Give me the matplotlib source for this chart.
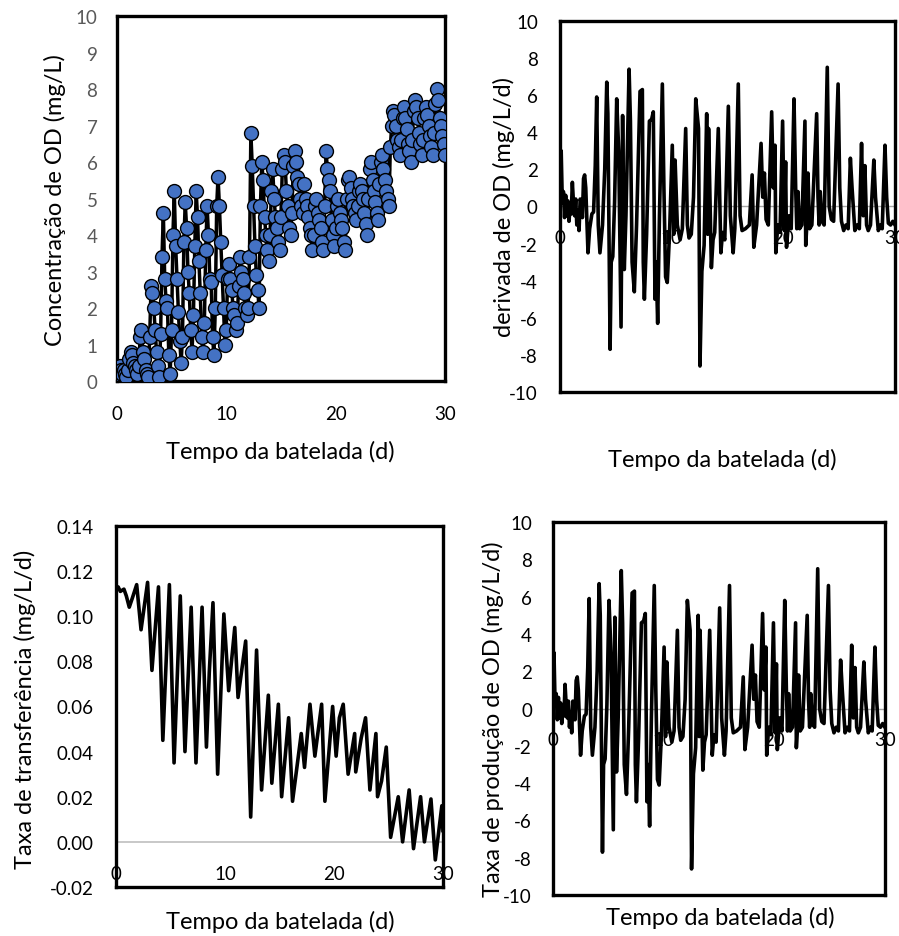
import matplotlib
matplotlib.use('Agg')
import matplotlib.pyplot as plt
import numpy as np

plt.rcParams['font.family'] = ['Lato', 'DejaVu Sans']
plt.rcParams['axes.unicode_minus'] = False

# dissolved oxygen concentration, 8 readings per day (every 3 h)
od_time = np.arange(241) / 8.0
od_conc = [
    0.2, 0.3, 0.4, 0.3, 0.2, 0.3, 0.2, 0.1,
    0.3, 0.6, 0.8, 0.7, 0.5, 0.4, 0.3, 0.2,
    0.4, 1.2, 1.4, 0.8, 0.6, 0.3, 0.2, 0.1,
    1.2, 2.6, 2.4, 2.0, 1.4, 0.8, 0.4, 0.1,
    1.3, 3.4, 4.6, 2.8, 2.2, 2.0, 0.7, 0.2,
    1.4, 4.0, 5.2, 3.7, 2.8, 1.9, 1.1, 0.5,
    1.2, 3.8, 4.9, 4.2, 3.0, 2.4, 1.4, 0.8,
    1.8, 3.7, 5.2, 4.5, 3.3, 2.4, 1.2, 0.8,
    1.6, 3.6, 4.8, 4.0, 2.8, 2.7, 1.2, 0.7,
    2.0, 4.8, 5.6, 4.8, 3.8, 2.9, 2.0, 1.0,
    1.4, 2.8, 3.2, 2.8, 2.5, 2.0, 1.8, 1.4,
    1.6, 2.6, 3.4, 3.0, 2.8, 2.4, 2.0, 1.8,
    2.0, 3.4, 6.8, 5.9, 4.8, 3.7, 2.9, 2.5,
    2.0, 4.8, 6.0, 5.5, 4.5, 4.0, 3.6, 3.3,
    4.0, 5.2, 5.8, 5.0, 4.5, 4.2, 3.8, 3.6,
    4.5, 5.8, 6.2, 6.0, 5.2, 4.8, 4.2, 4.0,
    4.6, 5.9, 6.3, 6.0, 5.6, 5.4, 5.0, 4.8,
    4.6, 5.4, 5.0, 4.8, 4.5, 4.2, 4.0, 3.6,
    4.0, 4.8, 5.0, 4.6, 4.4, 4.2, 3.8, 3.6,
    4.8, 6.3, 5.8, 5.5, 5.2, 4.4, 4.0, 3.7,
    4.2, 4.8, 5.0, 4.6, 4.4, 4.2, 3.8, 3.6,
    5.0, 5.5, 5.6, 5.3, 5.0, 4.8, 4.6, 4.4,
    4.8, 5.2, 5.4, 5.2, 5.0, 4.6, 4.3, 4.0,
    5.0, 5.8, 6.0, 5.5, 5.2, 4.9, 4.6, 4.4,
    5.4, 6.0, 6.2, 5.8, 5.5, 5.2, 5.0, 4.8,
    6.4, 7.0, 7.4, 7.3, 7.0, 6.6, 6.4, 6.2,
    6.6, 7.2, 7.5, 7.2, 6.9, 6.5, 6.3, 6.0,
    6.6, 7.4, 7.7, 7.5, 7.2, 6.8, 6.5, 6.2,
    6.6, 7.2, 7.5, 7.3, 7.0, 6.7, 6.4, 6.2,
    6.8, 7.6, 8.0, 7.7, 7.2, 7.0, 6.7, 6.5,
    6.2,
]

# derivative of DO (mg/L/d)
deriv_t = [0.00, 0.10, 0.20, 0.30, 0.40, 0.50, 0.60, 0.70, 0.80, 0.90,
           1.00, 1.10, 1.20, 1.30, 1.40, 1.50, 1.60, 1.70, 1.80, 1.90,
           2.00, 2.10, 2.20, 2.30, 2.50, 2.65, 2.85, 3.00, 3.15, 3.28,
           3.42, 3.57, 3.80, 4.00, 4.18, 4.28, 4.48, 4.58, 4.72, 4.88,
           5.07, 5.25, 5.46, 5.60, 5.75, 5.90, 6.18, 6.30, 6.45, 6.65,
           6.85, 7.16, 7.37, 7.45, 7.55, 7.75, 8.00, 8.20, 8.35, 8.50,
           8.60, 8.74, 8.90, 9.16, 9.30, 9.45, 9.60, 9.80, 10.05, 10.18,
           10.30, 10.50, 10.75, 10.95, 11.25, 11.40, 11.55, 11.75, 11.95, 12.15,
           12.40, 12.53, 12.70, 12.90, 13.13, 13.22, 13.30, 13.55, 13.70, 13.85,
           14.17, 14.28, 14.40, 14.55, 14.75, 15.07, 15.25, 15.50, 15.65, 15.96,
           16.12, 16.30, 16.60, 16.95, 17.20, 17.35, 17.60, 18.00, 18.15, 18.30,
           18.45, 18.65, 18.95, 19.10, 19.25, 19.32, 19.50, 19.70, 19.93, 20.08,
           20.20, 20.28, 20.50, 20.70, 20.95, 21.10, 21.20, 21.30, 21.45, 21.65,
           21.93, 22.00, 22.10, 22.20, 22.35, 22.55, 22.98, 23.10, 23.20, 23.30,
           23.45, 23.65, 23.93, 24.10, 24.30, 24.50, 24.90, 25.05, 25.20, 25.40,
           25.60, 25.80, 26.00, 26.15, 26.40, 26.60, 26.80, 27.00, 27.15, 27.30,
           27.45, 27.60, 27.80, 28.10, 28.25, 28.50, 28.70, 28.85, 29.10, 29.25,
           29.40, 29.60, 29.80, 30.00]
deriv_v = [0.3, 3.0, 0.2, 0.8, -0.6, 0.6, -0.5, 0.3, -0.8, 0.0,
           -0.4, 1.3, 0.2, -0.5, 0.4, -1.0, -0.2, -1.3, 0.4, 0.2,
           -0.6, 1.5, 1.7, 1.0, -2.5, -1.2, -0.4, -0.3, 2.2, 5.9,
           -1.0, -2.5, -1.0, 2.0, 6.7, 5.0, -7.7, -3.0, -2.7, 0.2,
           5.8, 3.0, -6.5, 4.9, -3.4, -0.5, 7.4, 4.6, -3.0, -4.6,
           -1.0, 6.2, 6.3, -3.0, -5.0, -1.5, 4.6, 4.7, 5.1, -5.0,
           -3.0, -6.3, -0.5, 6.6, 1.0, -3.8, -4.1, -1.5, 3.3, -1.5,
           2.5, -1.0, -1.8, -1.2, 4.2, -1.0, -1.7, -1.5, 0.5, 5.8,
           4.2, -8.6, -3.5, -2.1, 5.0, -1.5, 4.2, -3.3, -1.8, -1.4,
           4.2, 1.0, -2.5, -1.4, -1.8, 5.4, -0.5, -2.5, -1.2, 6.6,
           -0.5, -1.3, -1.2, -1.0, 1.7, -2.2, -1.0, 3.4, 0.5, 1.8,
           -0.7, -1.0, 5.1, 1.0, 3.3, -2.5, -1.0, -1.4, 4.6, -1.3,
           2.4, -2.2, -0.5, -1.2, 5.8, 1.0, -1.2, 0.8, -1.2, -1.0,
           4.6, -2.1, -1.0, 1.8, -1.2, -1.0, 5.0, 0.5, -1.0, 0.8,
           -0.8, -1.0, 7.5, 0.0, -0.7, -0.8, 6.6, 1.0, -0.8, -1.3,
           -1.0, -1.2, 2.6, 1.0, -1.3, -1.0, -1.2, 3.4, -0.5, 2.2,
           -1.0, -1.3, -1.0, 2.5, 0.5, -1.3, -1.0, -1.2, 3.3, 0.5,
           -0.9, -1.0, -0.8, -1.0]

# oxygen transfer rate (mg/L/d)
transf_t = [0.00, 0.20, 0.40, 0.73, 0.95, 1.22, 1.50, 1.90, 2.30, 2.90,
            3.30, 3.90, 4.30, 4.90, 5.33, 5.90, 6.33, 6.90, 7.34, 7.90,
            8.30, 8.56, 8.90, 9.33, 9.90, 10.34, 10.90, 11.20, 11.90, 12.36,
            12.90, 13.36, 13.98, 14.30, 14.90, 15.20, 15.84, 16.20, 17.00, 17.30,
            17.80, 18.25, 18.87, 19.17, 19.88, 20.20, 20.50, 20.85, 21.30, 21.90,
            22.00, 22.50, 22.90, 23.30, 23.85, 24.00, 24.37, 24.80, 25.20, 25.90,
            26.30, 26.90, 27.30, 27.95, 28.30, 28.90, 29.30, 29.90, 30.00]
transf_v = [0.112, 0.113, 0.111, 0.112, 0.109, 0.104, 0.108, 0.114, 0.094, 0.115,
            0.076, 0.113, 0.045, 0.114, 0.035, 0.109, 0.040, 0.104, 0.035, 0.104,
            0.042, 0.075, 0.106, 0.030, 0.101, 0.067, 0.095, 0.064, 0.089, 0.011,
            0.085, 0.023, 0.065, 0.026, 0.061, 0.020, 0.055, 0.018, 0.048, 0.033,
            0.061, 0.038, 0.061, 0.018, 0.060, 0.038, 0.055, 0.061, 0.030, 0.048,
            0.031, 0.046, 0.055, 0.023, 0.048, 0.020, 0.027, 0.042, 0.002, 0.020,
            0.000, 0.023, -0.003, 0.020, 0.000, 0.019, -0.008, 0.016, 0.005]

# DO production rate (mg/L/d) - visually identical to the derivative
prod_t = deriv_t
prod_v = deriv_v

x_ticks = [0, 10, 20, 30]
xlabel = 'Tempo da batelada (d)'

fig = plt.figure(figsize=(8.99, 9.37), dpi=100)

def frame(ax):
    for s in ax.spines.values():
        s.set_color('black')
        s.set_linewidth(2.4)
    ax.tick_params(length=0)

def zero_labels(ax, ypos):
    # Excel-style: x labels sit just under the zero line
    ax.set_xticks([])
    for t in x_ticks:
        ax.text(t, ypos, str(t), ha='center', va='center', fontsize=13.5, color='black')

# --- panel 1: concentration
ax1 = fig.add_axes([0.130, 0.5923, 0.365, 0.3895])
ax1.plot(od_time, od_conc, color='black', lw=2.5, marker='o', ms=10,
         mfc='#4472C4', mec='black', mew=1, zorder=3)
ax1.axvline(0, color='#bfbfbf', lw=1.5, zorder=1)
ax1.axhline(0, color='#bfbfbf', lw=1.5, zorder=1)
ax1.set_xlim(0, 30)
ax1.set_ylim(0, 10)
ax1.set_xticks(x_ticks)
ax1.set_yticks(range(0, 11))
ax1.tick_params(axis='y', labelsize=13.5, labelcolor='#595959', pad=14)
ax1.tick_params(axis='x', labelsize=13.5, labelcolor='black', pad=17)
frame(ax1)
fig.text(55 / 899, 1 - 200 / 937, 'Concentração de OD (mg/L)', rotation=90,
         ha='center', va='center', fontsize=17)
fig.text(280 / 899, 1 - 452 / 937, xlabel, ha='center', va='center', fontsize=17)

# --- panel 2: derivative
ax2 = fig.add_axes([0.623, 0.5806, 0.3726, 0.396])
ax2.plot(deriv_t, deriv_v, color='black', lw=2.6, zorder=3, solid_joinstyle='round')
ax2.axhline(0, color='#a6a6a6', lw=1, zorder=1)
ax2.axvline(0, color='#bfbfbf', lw=1.5, zorder=1)
ax2.set_xlim(0, 30)
ax2.set_ylim(-10, 10)
ax2.set_yticks(range(-10, 11, 2))
ax2.tick_params(axis='y', labelsize=13.5, pad=16)
zero_labels(ax2, -1.67)
frame(ax2)
fig.text(504 / 899, 1 - 207 / 937, 'derivada de OD (mg/L/d)', rotation=90,
         ha='center', va='center', fontsize=17)
fig.text(722 / 899, 1 - 460 / 937, xlabel, ha='center', va='center', fontsize=17)

# --- panel 3: transfer rate
ax3 = fig.add_axes([0.129, 0.0523, 0.3637, 0.3853])
ax3.plot(transf_t, transf_v, color='black', lw=2.6, zorder=3, solid_joinstyle='round')
ax3.axhline(0, color='#bfbfbf', lw=1.2, zorder=1)
ax3.axvline(0, color='#bfbfbf', lw=1.5, zorder=1)
ax3.set_xlim(0, 30)
ax3.set_ylim(-0.02, 0.14)
ax3.set_yticks(np.arange(-0.02, 0.141, 0.02))
ax3.set_yticklabels(['%.2f' % v for v in np.arange(-0.02, 0.141, 0.02)])
ax3.tick_params(axis='y', labelsize=13.5, pad=16)
zero_labels(ax3, -0.0142)
frame(ax3)
fig.text(25 / 899, 1 - 709 / 937, 'Taxa de transferência (mg/L/d)', rotation=90,
         ha='center', va='center', fontsize=17)
fig.text(280 / 899, 1 - 922 / 937, xlabel, ha='center', va='center', fontsize=17)

# --- panel 4: production rate
ax4 = fig.add_axes([0.615, 0.0437, 0.3693, 0.398])
ax4.plot(prod_t, prod_v, color='black', lw=2.6, zorder=3, solid_joinstyle='round')
ax4.axhline(0, color='#a6a6a6', lw=1, zorder=1)
ax4.axvline(0, color='#bfbfbf', lw=1.5, zorder=1)
ax4.set_xlim(0, 30)
ax4.set_ylim(-10, 10)
ax4.set_yticks(range(-10, 11, 2))
ax4.tick_params(axis='y', labelsize=13.5, pad=15)
zero_labels(ax4, -1.66)
frame(ax4)
fig.text(493 / 899, 1 - 719 / 937, 'Taxa de produção de OD (mg/L/d)', rotation=90,
         ha='center', va='center', fontsize=17)
fig.text(720 / 899, 1 - 918 / 937, xlabel, ha='center', va='center', fontsize=17)

fig.savefig('out.png', dpi=100)
